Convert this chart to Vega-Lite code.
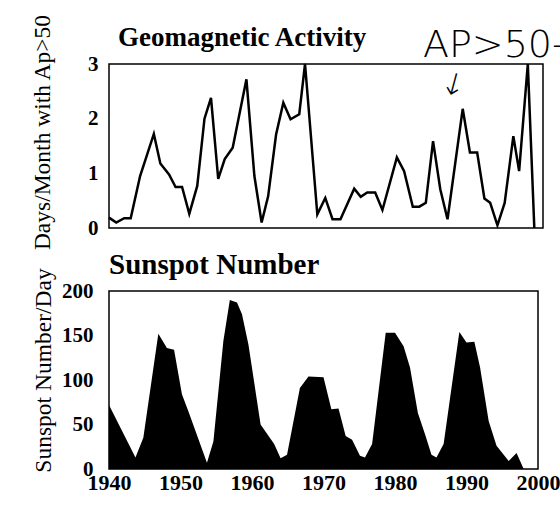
{
  "$schema": "https://vega.github.io/schema/vega-lite/v6.json",
  "background": "white",
  "padding": {"left": 29, "top": 12, "right": 0, "bottom": 0},
  "spacing": -2,
  "config": {
    "font": "Liberation Serif",
    "view": {"stroke": "black", "strokeWidth": 1.5},
    "axis": {
      "grid": false, "domain": false, "ticks": false,
      "labelFont": "Liberation Serif", "labelFontWeight": "bold", "labelFontSize": 21, "labelColor": "black",
      "titleFont": "Liberation Serif", "titleFontWeight": "normal", "titleFontSize": 23.5, "titleColor": "black",
      "labelOverlap": false, "labelFlush": false
    },
    "title": {"font": "Liberation Serif", "fontWeight": "bold", "fontSize": 27, "anchor": "start", "color": "black", "frame": "group"}
  },
  "vconcat": [
    {
      "width": 434,
      "height": 164,
      "title": {"text": "Geomagnetic Activity", "dx": 9, "offset": -38},
      "layer": [
        {
          "data": {"values": [
            {"year": 1940.0, "days": 0.19}, {"year": 1941.0, "days": 0.10}, {"year": 1942.1, "days": 0.18},
            {"year": 1943.0, "days": 0.18}, {"year": 1944.3, "days": 0.95}, {"year": 1946.2, "days": 1.72},
            {"year": 1947.1, "days": 1.18}, {"year": 1948.3, "days": 0.98}, {"year": 1949.2, "days": 0.75},
            {"year": 1950.1, "days": 0.75}, {"year": 1951.1, "days": 0.26}, {"year": 1952.2, "days": 0.77},
            {"year": 1953.2, "days": 2.0}, {"year": 1954.1, "days": 2.38}, {"year": 1955.1, "days": 0.9},
            {"year": 1956.0, "days": 1.26}, {"year": 1957.1, "days": 1.47}, {"year": 1959.0, "days": 2.72},
            {"year": 1960.1, "days": 0.95}, {"year": 1961.1, "days": 0.1}, {"year": 1962.0, "days": 0.58},
            {"year": 1963.1, "days": 1.71}, {"year": 1964.1, "days": 2.29}, {"year": 1965.1, "days": 1.99},
            {"year": 1966.3, "days": 2.08}, {"year": 1967.1, "days": 3.0}, {"year": 1968.8, "days": 0.25},
            {"year": 1969.9, "days": 0.55}, {"year": 1970.9, "days": 0.16}, {"year": 1972.0, "days": 0.16},
            {"year": 1973.9, "days": 0.72}, {"year": 1974.8, "days": 0.57}, {"year": 1975.7, "days": 0.65},
            {"year": 1976.8, "days": 0.65}, {"year": 1977.8, "days": 0.33}, {"year": 1979.8, "days": 1.29},
            {"year": 1980.8, "days": 1.04}, {"year": 1982.0, "days": 0.39}, {"year": 1982.9, "days": 0.39},
            {"year": 1983.8, "days": 0.46}, {"year": 1984.8, "days": 1.59}, {"year": 1985.8, "days": 0.71},
            {"year": 1986.8, "days": 0.16}, {"year": 1988.9, "days": 2.18}, {"year": 1989.9, "days": 1.38},
            {"year": 1990.9, "days": 1.38}, {"year": 1991.9, "days": 0.54}, {"year": 1992.7, "days": 0.46},
            {"year": 1993.7, "days": 0.05}, {"year": 1994.7, "days": 0.46}, {"year": 1995.9, "days": 1.68},
            {"year": 1996.7, "days": 1.04}, {"year": 1997.9, "days": 3.0}, {"year": 1998.8, "days": 0.0}
          ]},
          "mark": {"type": "line", "color": "black", "strokeWidth": 2.5},
          "encoding": {
            "x": {"field": "year", "type": "quantitative", "scale": {"domain": [1940, 2000], "nice": false, "zero": false}, "axis": null},
            "y": {"field": "days", "type": "quantitative", "scale": {"domain": [0, 3], "nice": false},
                  "axis": {"values": [0, 1, 2, 3], "format": "d", "title": "Days/Month with Ap>50", "labelPadding": 11, "titlePadding": 33, "titleY": 68}}
          }
        },
        {
          "data": {"values": [{"year": 1983.4, "days": 3.33, "note": "AP>50-"}]},
          "mark": {"type": "text", "align": "left", "baseline": "middle", "font": "DejaVu Sans", "fontWeight": 300, "fontSize": 38, "color": "black", "clip": false},
          "encoding": {
            "x": {"field": "year", "type": "quantitative"},
            "y": {"field": "days", "type": "quantitative"},
            "text": {"field": "note"}
          }
        },
        {
          "data": {"values": [{"year": 1987.6, "days": 2.6, "note": "↓"}]},
          "mark": {"type": "text", "align": "center", "baseline": "middle", "font": "DejaVu Sans", "fontWeight": 300, "fontSize": 30, "angle": 15, "color": "black", "clip": false},
          "encoding": {
            "x": {"field": "year", "type": "quantitative"},
            "y": {"field": "days", "type": "quantitative"},
            "text": {"field": "note"}
          }
        }
      ]
    },
    {
      "width": 429,
      "height": 178,
      "title": {"text": "Sunspot Number", "dx": 0, "offset": -12, "fontSize": 29},
      "data": {"values": [
        {"year": 1940.0, "ssn": 72}, {"year": 1943.7, "ssn": 13}, {"year": 1944.8, "ssn": 35},
        {"year": 1946.9, "ssn": 152}, {"year": 1948.1, "ssn": 136}, {"year": 1949.1, "ssn": 134},
        {"year": 1950.2, "ssn": 84}, {"year": 1951.1, "ssn": 65}, {"year": 1953.7, "ssn": 7},
        {"year": 1954.6, "ssn": 31}, {"year": 1956.0, "ssn": 144}, {"year": 1956.9, "ssn": 190},
        {"year": 1957.9, "ssn": 187}, {"year": 1958.6, "ssn": 174}, {"year": 1959.5, "ssn": 140},
        {"year": 1961.2, "ssn": 50}, {"year": 1963.1, "ssn": 28}, {"year": 1964.0, "ssn": 12},
        {"year": 1964.9, "ssn": 16}, {"year": 1966.7, "ssn": 91}, {"year": 1967.9, "ssn": 104},
        {"year": 1970.0, "ssn": 103}, {"year": 1971.1, "ssn": 67}, {"year": 1972.1, "ssn": 68},
        {"year": 1973.1, "ssn": 37}, {"year": 1974.0, "ssn": 33}, {"year": 1975.1, "ssn": 15},
        {"year": 1975.8, "ssn": 13}, {"year": 1976.8, "ssn": 28}, {"year": 1978.7, "ssn": 153},
        {"year": 1980.0, "ssn": 153}, {"year": 1981.2, "ssn": 138}, {"year": 1982.1, "ssn": 114},
        {"year": 1983.2, "ssn": 63}, {"year": 1984.2, "ssn": 39}, {"year": 1985.1, "ssn": 16},
        {"year": 1985.8, "ssn": 13}, {"year": 1986.8, "ssn": 28}, {"year": 1989.0, "ssn": 154},
        {"year": 1990.0, "ssn": 142}, {"year": 1991.1, "ssn": 143}, {"year": 1991.9, "ssn": 114},
        {"year": 1993.1, "ssn": 54}, {"year": 1994.2, "ssn": 26}, {"year": 1995.9, "ssn": 9},
        {"year": 1997.0, "ssn": 18}, {"year": 1998.0, "ssn": 0}, {"year": 2000.0, "ssn": 0}
      ]},
      "mark": {"type": "area", "color": "black", "opacity": 1},
      "encoding": {
        "x": {"field": "year", "type": "quantitative", "scale": {"domain": [1940, 2000], "nice": false, "zero": false},
              "axis": {"values": [1940, 1950, 1960, 1970, 1980, 1990, 2000], "format": "d", "title": null, "labelPadding": 3, "labelFontSize": 22}},
        "y": {"field": "ssn", "type": "quantitative", "scale": {"domain": [0, 200], "nice": false},
              "axis": {"values": [0, 50, 100, 150, 200], "title": "Sunspot Number/Day", "labelPadding": 16, "titlePadding": 6, "titleY": 79}}
      }
    }
  ]
}
